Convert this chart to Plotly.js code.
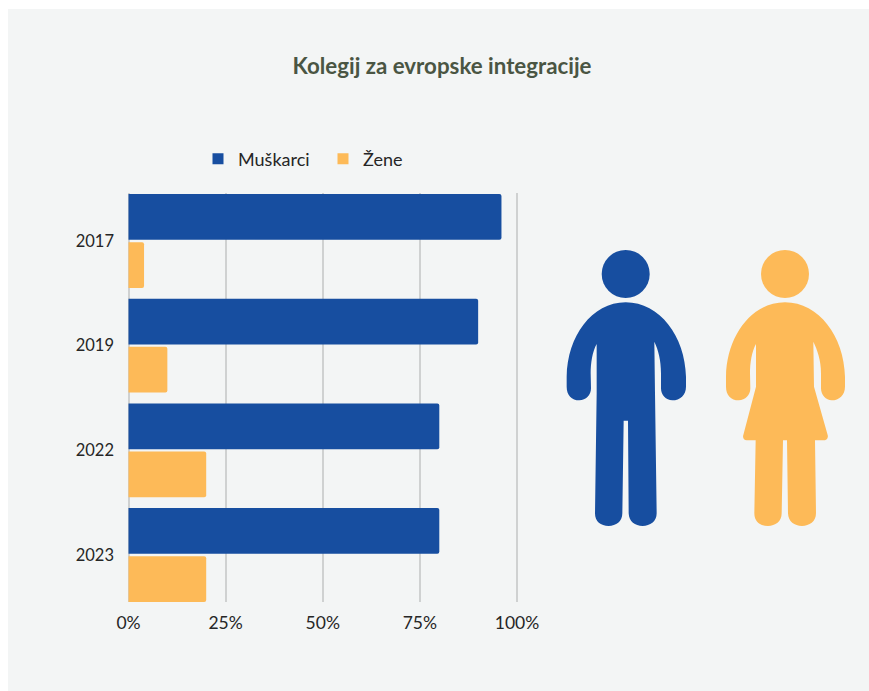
<!DOCTYPE html>
<html>
<head>
<meta charset="utf-8">
<script src="https://cdn.plot.ly/plotly-3.0.1.min.js"></script>
<style>html,body{margin:0;padding:0;background:#fff}#c{width:869px;height:691px}</style>
</head>
<body>
<div id="c"></div>
<script>
const categories = ['2017', '2019', '2022', '2023'];
const muskarci = [96, 90, 80, 80];
const zene = [4, 10, 20, 20];
const tickVals = [0, 25, 50, 75, 100];
const tickLabels = ['0%', '25%', '50%', '75%', '100%'];
const titleText = 'Kolegij za evropske integracije';
const BLUE = '#174EA0', ORANGE = '#FDBA58', PANEL = '#F3F5F5';

const W = 869, H = 691;
const m = {l: 127, r: 350, t: 193, b: 89};
const pw = W - m.l - m.r, ph = H - m.t - m.b;
const px = x => ((x - m.l) / pw).toFixed(5);
const py = y => ((H - m.b - y) / ph).toFixed(5);

// Icon outlines, traced in zoom-crop coordinates (3x, origin 560,240)
const manBody = 'M197 187 C300 187 375 290 378 410 L378 440 C378 465 360 481 337 481 C318 481 303 465 303 445 L303 400 C303 360 295 330 283 305 L285 460 L290 820 C290 845 270 858 248 858 C225 858 207 845 206 820 L204 542 L191 542 L187 820 C187 845 168 858 146 858 C122 858 105 845 105 820 L110 460 L110 312 C97 335 92 370 92 400 L93 445 C93 465 78 481 58 481 C35 481 20 465 20 440 L20 410 C22 290 95 187 197 187 Z';
const womanBody = 'M675 187 C777 187 852 290 855 410 L855 440 C855 465 837 481 815 481 C798 481 783 465 783 445 L783 400 C783 360 772 330 760 305 L762 440 L803 585 C806 595 798 601 790 601 L765 601 L768 820 C768 845 748 858 726 858 C703 858 685 845 684 820 L681 601 L669 601 L665 820 C665 845 646 858 624 858 C600 858 583 845 583 820 L587 601 L560 601 C552 601 547 593 550 585 L588 440 L588 312 C575 335 570 370 570 400 L571 445 C571 465 556 481 536 481 C513 481 498 465 498 440 L498 410 C500 290 573 187 675 187 Z';

function toPaper(path) {
  let isX = true;
  return path.replace(/-?\d+(\.\d+)?/g, n => {
    const v = parseFloat(n) / 3;
    const out = isX ? px(560 + v) : py(240 + v);
    isX = !isX;
    return out;
  });
}
function head(cx, cy, r, color) {
  return {type: 'circle', xref: 'paper', yref: 'paper', layer: 'above',
    x0: px(cx - r), x1: px(cx + r), y0: py(cy + r), y1: py(cy - r),
    fillcolor: color, line: {width: 0}};
}
function body(path, color) {
  return {type: 'path', xref: 'paper', yref: 'paper', layer: 'above',
    path: toPaper(path), fillcolor: color, line: {width: 0}};
}

const traces = [
  {type: 'bar', orientation: 'h', name: 'Muškarci', y: categories, x: muskarci, marker: {color: BLUE}, showlegend: false},
  {type: 'bar', orientation: 'h', name: 'Žene', y: categories, x: zene, marker: {color: ORANGE}, showlegend: false},
  {type: 'scatter', mode: 'markers', name: 'Muškarci', y: [null], x: [null],
   marker: {color: BLUE, symbol: 'square', size: 11}},
  {type: 'scatter', mode: 'markers', name: 'Žene', y: [null], x: [null],
   marker: {color: ORANGE, symbol: 'square', size: 11}}
];

const layout = {
  width: W, height: H, margin: m,
  paper_bgcolor: '#FFFFFF', plot_bgcolor: 'rgba(0,0,0,0)',
  font: {family: 'Lato, sans-serif', size: 17, color: '#262626'},
  title: {text: '<b>' + titleText + '</b>', x: 442 / W, xref: 'container', xanchor: 'center',
    y: 1 - 66 / H, yref: 'container', yanchor: 'middle',
    font: {family: 'Lato, sans-serif', size: 22.3, color: '#4A5543'}},
  barmode: 'group', bargap: 0.08, bargroupgap: 0.05, barcornerradius: 2,
  showlegend: true,
  legend: {orientation: 'h', x: px(198), y: py(159), xanchor: 'left', yanchor: 'middle',
    traceorder: 'normal', font: {size: 18, color: '#262626'}, bgcolor: 'rgba(0,0,0,0)',
    itemwidth: 30, entrywidth: 80, entrywidthmode: 'pixels'},
  xaxis: {range: [-0.386, 100.515], tickmode: 'array', tickvals: tickVals, ticktext: tickLabels,
    showgrid: true, gridcolor: '#CFD1D1', gridwidth: 2, zeroline: false, showline: false,
    ticks: '', ticklen: 0, ticklabelstandoff: 8, tickfont: {size: 17.5}, fixedrange: true},
  yaxis: {type: 'category', categoryorder: 'array', categoryarray: categories,
    range: [3.449, -0.4586], showgrid: false, zeroline: false, showline: false,
    ticks: '', ticklabelstandoff: 12, tickfont: {size: 16.5}, fixedrange: true},
  shapes: [
    {type: 'rect', xref: 'paper', yref: 'paper', layer: 'below',
     x0: px(8), x1: px(869), y0: py(691), y1: py(9), fillcolor: PANEL, line: {width: 0}},
    head(625.7, 274, 24, BLUE), body(manBody, BLUE),
    head(785, 274, 24, ORANGE), body(womanBody, ORANGE)
  ]
};
Plotly.newPlot('c', traces, layout, {displayModeBar: false, staticPlot: true});
</script>
</body>
</html>
